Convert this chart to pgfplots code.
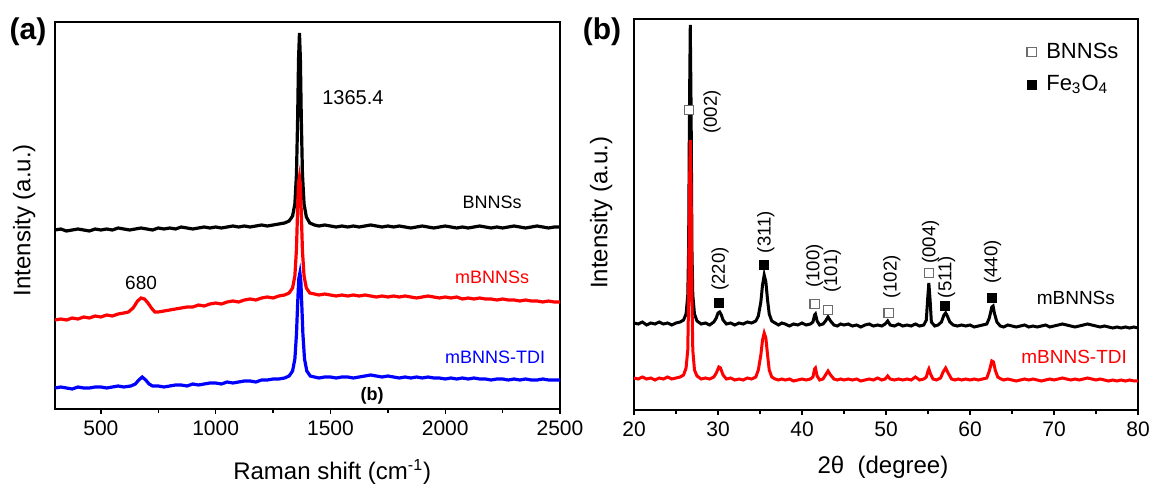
\documentclass[border=0pt]{standalone}
\usepackage{fontspec}
\setmainfont{Liberation Sans}
\usepackage{pgfplots}
\pgfplotsset{compat=1.18}

\pgfplotsset{
  panel/.style={
    scale only axis,
    axis line style={line width=0.8pt},
    ytick=\empty,
    xtick pos=bottom,
    tick align=outside,
    minor x tick num=1,
    major tick length=2.6pt,
    minor tick length=1.8pt,
    every tick/.style={line width=0.7pt, black},
    tick label style={font=\fontsize{10.5}{12}\selectfont},
    label style={font=\fontsize{12}{14}\selectfont},
    /pgf/number format/assume math mode=true,
    /pgf/number format/set thousands separator={},
    clip=false,
  },
}
\tikzset{hkl/.style={font=\fontsize{9.3}{10}\selectfont, rotate=90}}

\begin{document}
\begin{tikzpicture}
\useasboundingbox (0,0) rectangle (576.5pt,-243pt);

% ---------------- (a) Raman ----------------
\begin{axis}[panel,
  at={(27.5pt,-204.5pt)}, anchor=south west,
  width=252.5pt, height=193.5pt,
  xmin=300, xmax=2500, ymin=0, ymax=387,
  xtick={500,1000,1500,2000,2500},
  xlabel={Raman shift (cm\textsuperscript{-1})},
  ylabel={Intensity (a.u.)},
  xlabel style={at={(axis description cs:0.549,-0.163)}, anchor=center},
  ylabel style={at={(axis description cs:-0.061,0.488)}, anchor=center, rotate=0},
]
% BNNSs
\addplot[black, line width=1.6pt] coordinates {
(300,179) (325,180) (350,178) (375,179) (400,180) (425,179) (450,178) (475,180)
(500,179) (525,180) (550,179) (575,181) (600,180) (625,179) (650,180) (675,181)
(700,180) (725,179) (750,181) (775,180) (800,181) (825,180) (850,182) (875,181)
(900,180) (925,181) (950,182) (975,181) (1000,182) (1025,181) (1050,182) (1075,183)
(1100,182) (1125,183) (1150,182) (1175,183) (1200,184) (1225,183) (1250,184) (1275,185)
(1300,186) (1320,188) (1335,193) (1345,205) (1352,235) (1357,290) (1361,350) (1365,376)
(1369,350) (1373,290) (1378,235) (1385,205) (1395,192) (1410,186) (1430,184) (1450,183)
(1475,184) (1500,183) (1525,182) (1550,183) (1575,182) (1600,183) (1625,182) (1650,183)
(1675,184) (1700,183) (1725,182) (1750,183) (1775,182) (1800,183) (1825,182) (1850,181)
(1875,182) (1900,183) (1925,182) (1950,181) (1975,182) (2000,183) (2025,182) (2050,181)
(2075,182) (2100,181) (2125,182) (2150,183) (2175,182) (2200,181) (2225,182) (2250,181)
(2275,182) (2300,183) (2325,182) (2350,181) (2375,182) (2400,183) (2425,182) (2450,181)
(2475,182) (2500,182)
};
% mBNNSs
\addplot[red, line width=1.6pt] coordinates {
(300,89) (325,90) (350,89) (375,91) (400,90) (425,92) (450,91) (475,93)
(500,92) (525,94) (550,93) (575,95) (600,96) (620,97) (640,101) (660,108)
(675,111) (690,110) (705,106) (720,101) (735,97) (750,97) (775,98) (800,99)
(825,100) (850,101) (875,102) (900,102) (925,104) (950,103) (975,105) (1000,106)
(1025,105) (1050,107) (1075,108) (1100,107) (1125,109) (1150,110) (1175,109) (1200,111)
(1225,112) (1250,111) (1275,113) (1300,114) (1320,116) (1335,121) (1345,133) (1352,160)
(1357,200) (1361,226) (1365,232) (1369,224) (1373,196) (1378,158) (1385,133) (1395,121)
(1410,116) (1430,115) (1450,114) (1475,115) (1500,114) (1525,113) (1550,114) (1575,113)
(1600,114) (1625,113) (1650,114) (1675,113) (1700,112) (1725,113) (1750,112) (1775,113)
(1800,112) (1825,113) (1850,112) (1875,111) (1900,112) (1925,113) (1950,112) (1975,111)
(2000,112) (2025,111) (2050,112) (2075,110) (2100,111) (2125,110) (2150,111) (2175,110)
(2200,110) (2225,109) (2250,110) (2275,109) (2300,109) (2325,108) (2350,109) (2375,108)
(2400,108) (2425,107) (2450,108) (2475,107) (2500,107)
};
% mBNNS-TDI
\addplot[blue, line width=1.6pt] coordinates {
(300,21) (325,22) (350,21) (375,20) (400,22) (425,21) (450,21) (475,22)
(500,22) (525,21) (550,22) (575,23) (600,22) (630,23) (650,25) (665,29)
(680,32) (695,29) (710,25) (725,23) (750,23) (775,22) (800,23) (825,24)
(850,24) (875,23) (900,25) (925,24) (950,25) (975,26) (1000,26) (1025,25)
(1050,27) (1075,26) (1100,27) (1125,28) (1150,28) (1175,27) (1200,29) (1225,29)
(1250,30) (1275,30) (1300,31) (1320,33) (1335,38) (1345,50) (1352,75) (1357,105)
(1362,130) (1367,136) (1371,128) (1375,105) (1380,75) (1387,50) (1397,38) (1412,33)
(1430,32) (1450,31) (1475,32) (1500,32) (1525,31) (1550,32) (1575,32) (1600,31)
(1625,32) (1650,33) (1675,34) (1700,33) (1725,32) (1750,33) (1775,32) (1800,31)
(1825,32) (1850,31) (1875,32) (1900,31) (1925,32) (1950,31) (1975,31) (2000,30)
(2025,31) (2050,30) (2075,31) (2100,30) (2125,31) (2150,30) (2175,30) (2200,29)
(2225,30) (2250,30) (2275,29) (2300,30) (2325,29) (2350,30) (2375,29) (2400,29)
(2425,30) (2450,29) (2475,29) (2500,29)
};
\node[font=\fontsize{10}{12}\selectfont] at (axis cs:1598,311) {1365.4};
\node[font=\fontsize{9.5}{11}\selectfont] at (axis cs:675,126) {680};
\node[font=\fontsize{9}{11}\selectfont, black] at (axis cs:2204,207) {BNNSs};
\node[font=\fontsize{9}{11}\selectfont, red] at (axis cs:2204,132) {mBNNSs};
\node[font=\fontsize{9}{11}\selectfont, blue] at (axis cs:2217,52) {mBNNS-TDI};
\node[font=\fontsize{9}{11}\selectfont\bfseries] at (axis cs:1681,13) {(b)};
\end{axis}

% ---------------- (b) XRD ----------------
\begin{axis}[panel,
  at={(317pt,-205pt)}, anchor=south west,
  width=252pt, height=195.5pt,
  xmin=20, xmax=80, ymin=0, ymax=391,
  xtick={20,30,40,50,60,70,80},
  xlabel={2θ~ (degree)},
  ylabel={Intensity (a.u.)},
  xlabel style={at={(axis description cs:0.494,-0.146)}, anchor=center},
  ylabel style={at={(axis description cs:-0.065,0.504)}, anchor=center, rotate=0},
  legend style={draw=none, fill=none, at={(axis description cs:0.775,0.955)},
    anchor=north west, font=\fontsize{11}{13}\selectfont,
    row sep=3pt, inner sep=1pt},
  legend cell align=left,
  legend image code/.code={\draw[#1] plot coordinates {(0.12cm,0cm)};},
]
% mBNNSs
\addplot[black, line width=1.5pt, forget plot] coordinates {
(20.0,87) (20.5,86) (21.0,88) (21.5,85) (22.0,87) (22.5,86) (23.0,88) (23.5,86)
(24.0,87) (24.5,85) (25.0,87) (25.5,88) (25.9,90) (26.2,96) (26.4,115) (26.5,160)
(26.6,300) (26.7,385) (26.8,300) (26.9,160) (27.0,115) (27.2,96) (27.5,89) (28.0,86)
(28.5,87) (29.0,85) (29.5,88) (29.8,92) (30.0,97) (30.2,98) (30.4,95) (30.6,90)
(31.0,86) (31.5,87) (32.0,85) (32.5,87) (33.0,86) (33.5,88) (34.0,87) (34.5,89)
(34.8,94) (35.1,108) (35.3,125) (35.5,135) (35.7,128) (35.9,110) (36.1,96) (36.4,89)
(36.8,87) (37.2,85) (37.6,87) (38.0,86) (38.5,84) (39.0,86) (39.5,85) (40.0,87)
(40.5,85) (41.0,86) (41.3,88) (41.5,95) (41.6,96) (41.8,89) (42.1,85) (42.5,86)
(42.8,89) (43.1,93) (43.4,89) (43.8,85) (44.2,84) (44.6,86) (45.0,85) (45.5,86)
(46.0,84) (46.5,85) (47.0,83) (47.5,85) (48.0,86) (48.5,84) (49.0,85) (49.5,84)
(49.9,86) (50.2,89) (50.5,85) (51.0,84) (51.5,86) (52.0,84) (52.5,85) (53.0,84)
(53.5,86) (54.0,84) (54.5,85) (54.8,90) (54.95,110) (55.1,127) (55.25,110) (55.4,88)
(55.8,84) (56.2,85) (56.6,88) (56.9,95) (57.1,97) (57.3,94) (57.6,88) (58.0,85)
(58.5,84) (59.0,85) (59.5,84) (60.0,85) (60.5,83) (61.0,84) (61.5,85) (62.0,86)
(62.3,92) (62.6,103) (62.75,104) (62.9,97) (63.2,88) (63.6,84) (64.0,83) (64.5,85)
(65.0,84) (65.5,83) (66.0,84) (66.5,85) (67.0,83) (67.5,84) (68.0,83) (68.5,84)
(69.0,85) (69.5,83) (70.0,84) (70.5,85) (71.0,86) (71.5,85) (72.0,84) (72.5,83)
(73.0,84) (73.5,85) (74.0,86) (74.5,85) (75.0,84) (75.5,83) (76.0,84) (76.5,83)
(77.0,82) (77.5,83) (78.0,82) (78.5,83) (79.0,82) (79.5,83) (80.0,82)
};
% mBNNS-TDI
\addplot[red, line width=1.5pt, forget plot] coordinates {
(20.0,32) (20.5,31) (21.0,33) (21.5,31) (22.0,32) (22.5,30) (23.0,32) (23.5,31)
(24.0,33) (24.5,31) (25.0,32) (25.5,33) (25.9,35) (26.2,42) (26.4,60) (26.5,110)
(26.6,220) (26.7,270) (26.8,220) (26.9,110) (27.0,60) (27.2,40) (27.5,34) (28.0,31)
(28.5,32) (29.0,31) (29.5,33) (29.8,37) (30.1,43) (30.3,42) (30.6,35) (31.0,31)
(31.5,32) (32.0,30) (32.5,31) (33.0,30) (33.5,32) (34.0,31) (34.5,33) (34.8,40)
(35.1,55) (35.3,70) (35.5,77) (35.7,72) (35.9,55) (36.1,40) (36.4,33) (36.8,31)
(37.2,30) (37.6,31) (38.0,30) (38.5,31) (39.0,29) (39.5,30) (40.0,31) (40.5,30)
(41.0,31) (41.3,33) (41.5,41) (41.6,42) (41.8,34) (42.1,30) (42.5,31) (42.8,35)
(43.1,39) (43.4,35) (43.8,31) (44.2,30) (44.6,31) (45.0,30) (45.5,31) (46.0,30)
(46.5,31) (47.0,29) (47.5,30) (48.0,31) (48.5,30) (49.0,32) (49.5,30) (49.9,31)
(50.2,34) (50.5,31) (51.0,30) (51.5,31) (52.0,30) (52.5,31) (53.0,30) (53.5,33)
(54.0,30) (54.5,31) (54.8,33) (55.0,39) (55.1,41) (55.3,36) (55.6,31) (56.0,30)
(56.5,32) (56.8,38) (57.1,42) (57.4,37) (57.8,31) (58.2,30) (58.6,31) (59.0,30)
(59.5,31) (60.0,30) (60.5,31) (61.0,30) (61.5,31) (62.0,32) (62.3,39) (62.6,49)
(62.8,48) (63.0,40) (63.3,33) (63.7,31) (64.0,30) (64.5,31) (65.0,30) (65.5,29)
(66.0,30) (66.5,31) (67.0,30) (67.5,31) (68.0,30) (68.5,29) (69.0,30) (69.5,31)
(70.0,30) (70.5,31) (71.0,32) (71.5,31) (72.0,30) (72.5,31) (73.0,30) (73.5,31)
(74.0,32) (74.5,31) (75.0,30) (75.5,31) (76.0,30) (76.5,29) (77.0,30) (77.5,29)
(78.0,30) (78.5,29) (79.0,30) (79.5,29) (80.0,29)
};
% h-BN reflections (open squares)
\addplot[only marks, mark=square*, mark size=2.3pt,
  mark options={fill=white, draw=gray!85!black, line width=0.6pt}] coordinates {
(26.55,300) (41.5,106) (43.1,100) (50.3,97) (55.1,137)
};
\addlegendentry{\ BNNSs}
% Fe3O4 reflections (filled squares)
\addplot[only marks, mark=square*, mark size=2.2pt,
  mark options={fill=black, draw=black}] coordinates {
(30.1,107) (35.5,145) (57.0,104) (62.6,112)
};
\addlegendentry{\ Fe\textsubscript{3}O\textsubscript{4}}

\node[hkl] at (axis cs:29.3,298) {(002)};
\node[hkl] at (axis cs:30.25,141) {(220)};
\node[hkl] at (axis cs:35.7,178) {(311)};
\node[hkl] at (axis cs:41.5,144) {(100)};
\node[hkl] at (axis cs:43.6,139) {(101)};
\node[hkl] at (axis cs:50.7,133) {(102)};
\node[hkl] at (axis cs:55.3,168) {(004)};
\node[hkl] at (axis cs:57.2,133) {(511)};
\node[hkl] at (axis cs:62.7,148) {(440)};
\node[font=\fontsize{9.5}{11}\selectfont, black] at (axis cs:72.6,112) {mBNNSs};
\node[font=\fontsize{9.5}{11}\selectfont, red] at (axis cs:72.4,53) {mBNNS-TDI};
\end{axis}

\node[font=\fontsize{15}{17}\selectfont\bfseries] at (14pt,-16pt) {(a)};
\node[font=\fontsize{15}{17}\selectfont\bfseries] at (301pt,-16pt) {(b)};
\end{tikzpicture}
\end{document}
